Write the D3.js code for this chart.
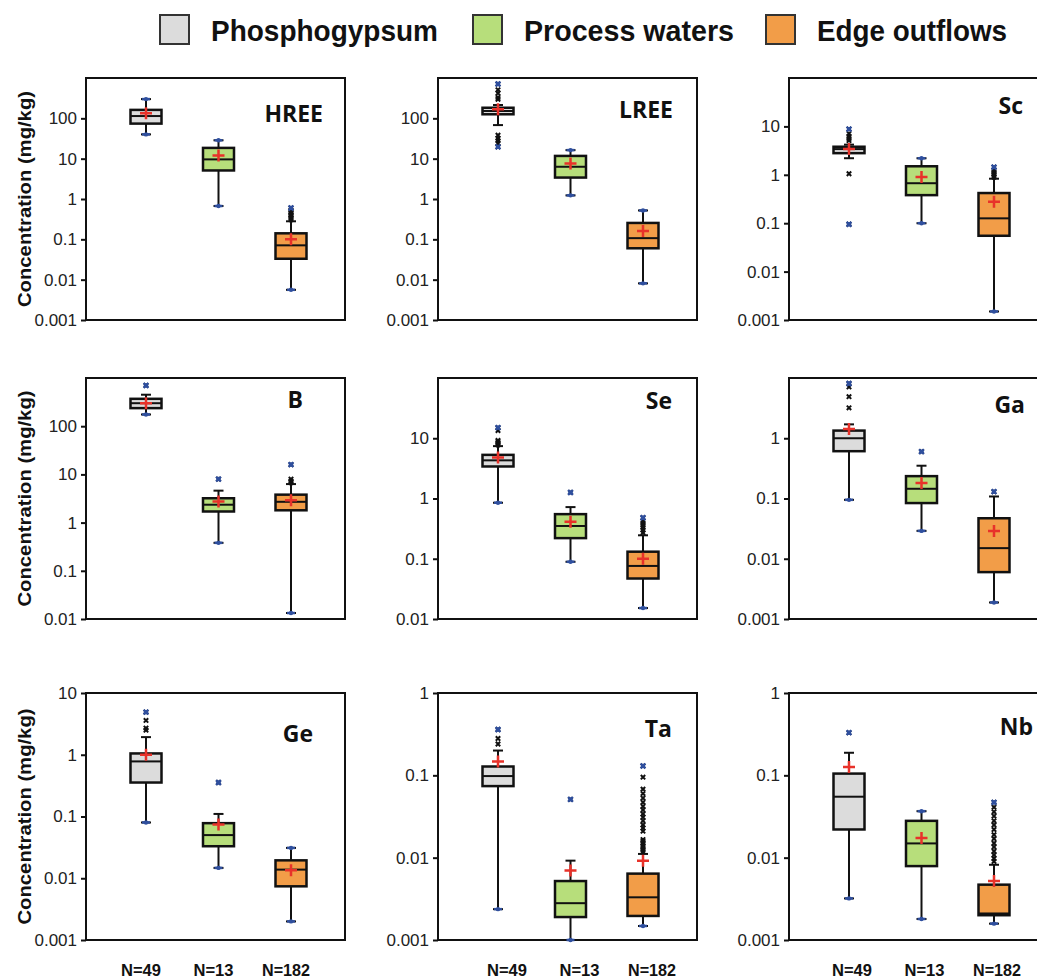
<!DOCTYPE html>
<html lang="en">
<head>
<meta charset="utf-8">
<title>Box plots</title>
<script src="https://cdn.jsdelivr.net/npm/d3@7"></script>
<style> html,body{margin:0;padding:0;background:#fff;} </style>
</head>
<body>
<script>

// groups + legend
var groups = ["Phosphogypsum", "Process waters", "Edge outflows"];
var groupColors = ["#dcdcdc", "#b7de7b", "#f29d48"];
var sampleSizes = [49, 13, 182];

// one panel per element
var elements = ["HREE", "LREE", "Sc", "B", "Se", "Ga", "Ge", "Ta", "Nb"];
var yDomains = [[0.001, 1000], [0.001, 1000], [0.001, 100], [0.01, 1000], [0.01, 100],
                [0.001, 10], [0.001, 10], [0.001, 1], [0.001, 1]];
var tickVals = [
  [0.001, 0.01, 0.1, 1, 10, 100],
  [0.001, 0.01, 0.1, 1, 10, 100],
  [0.001, 0.01, 0.1, 1, 10],
  [0.01, 0.1, 1, 10, 100],
  [0.01, 0.1, 1, 10],
  [0.001, 0.01, 0.1, 1],
  [0.001, 0.01, 0.1, 1, 10],
  [0.001, 0.01, 0.1, 1],
  [0.001, 0.01, 0.1, 1]
];

// stats per element, [phosphogypsum, process waters, edge outflows]
var whiskerLow = [[40, 0.67, 0.0056], [68, 1.23, 0.0081], [2.2, 0.1, 0.0015],
                  [175, 0.38, 0.0133], [0.85, 0.089, 0.0152], [0.095, 0.029, 0.00188],
                  [0.08, 0.0147, 0.002], [0.00237, 0.001, 0.00148], [0.0032, 0.0018, 0.00158]];
var q1 = [[74, 5.1, 0.033], [126, 3.4, 0.06], [2.8, 0.38, 0.055],
          [237, 1.7, 1.8], [3.4, 0.22, 0.047], [0.61, 0.084, 0.006],
          [0.355, 0.033, 0.0074], [0.074, 0.0019, 0.00196], [0.022, 0.0079, 0.002]];
var median = [[114, 9.6, 0.071], [152, 6.3, 0.107], [3.4, 0.67, 0.126],
              [300, 2.35, 2.7], [4.3, 0.35, 0.076], [1.0, 0.145, 0.015],
              [0.78, 0.05, 0.0138], [0.098, 0.0028, 0.0033], [0.055, 0.0149, 0.0021]];
var q3 = [[162, 18.5, 0.141], [183, 11.7, 0.255], [3.8, 1.5, 0.42],
          [370, 3.2, 3.8], [5.3, 0.55, 0.131], [1.34, 0.235, 0.047],
          [1.05, 0.078, 0.0195], [0.128, 0.0052, 0.0064], [0.105, 0.028, 0.0047]];
var whiskerHigh = [[300, 28.6, 0.28], [214, 16.3, 0.52], [4.2, 2.2, 0.83],
                   [450, 4.6, 6.3], [7.4, 0.72, 0.245], [1.7, 0.35, 0.108],
                   [1.93, 0.11, 0.031], [0.2, 0.0092, 0.0111], [0.188, 0.0367, 0.0082]];
var means = [[133, 12, 0.1], [167, 7.6, 0.16], [3.4, 0.9, 0.277],
             [300, 2.75, 2.9], [4.8, 0.41, 0.1], [1.42, 0.18, 0.029],
             [1.0, 0.074, 0.0135], [0.147, 0.007, 0.0092], [0.126, 0.0173, 0.0052]];
var outliers = [
  [[], [], [0.31, 0.34, 0.37, 0.4, 0.44, 0.48, 0.53, 0.6]],
  [[296, 330, 420, 510, 710, 38, 32, 28, 24, 19.6], [], []],
  [[5.1, 5.6, 6.2, 7.1, 8.8, 1.05, 0.095], [], [0.9, 0.97, 1.05, 1.15, 1.25, 1.44]],
  [[700], [8], [6.8, 7.3, 8, 16]],
  [[7.8, 8.3, 8.8, 9.2, 13.4, 15], [1.26], [0.27, 0.3, 0.33, 0.36, 0.39, 0.42, 0.48]],
  [[3.2, 4.9, 7.1, 8.1], [0.6], [0.13]],
  [[2.5, 2.7, 3.6, 4.9], [0.355], []],
  [[0.24, 0.28, 0.36], [0.051], [0.0118, 0.0125, 0.0133, 0.014, 0.015, 0.0158, 0.0166, 0.021, 0.023,
    0.025, 0.028, 0.031, 0.034, 0.038, 0.042, 0.047, 0.053, 0.06, 0.068, 0.095, 0.13]],
  [[0.33], [], [0.009, 0.0098, 0.0108, 0.012, 0.0135, 0.015, 0.017, 0.019, 0.022, 0.025,
    0.028, 0.032, 0.036, 0.041, 0.047]]
];

// layout
var colLeft = [86, 438, 789], rowTop = [78, 378, 693], rowBottom = [320, 619, 940];
var frameW = 259, boxW = 31;
var titleRight = [323, 673, 1023, 303, 672, 1025, 313, 672, 1033];
var titleBase = [122, 118, 114, 408, 409, 413, 742, 737, 735];
var nShift = [-5, 9, 3];

var svg = d3.select("body").append("svg")
    .attr("width", 1037)
    .attr("height", 979)
    .style("font-family", "'Liberation Sans', Arial, sans-serif");

// legend
var legX = [160, 473, 766], legTextLen = [227, 210, 190];
groups.forEach(function(g, i){
  svg.append("rect")
      .attr("x", legX[i]).attr("y", 15)
      .attr("width", 29).attr("height", 29)
      .attr("fill", groupColors[i])
      .attr("stroke", "#333").attr("stroke-width", 2);
  svg.append("text")
      .attr("x", legX[i] + 51).attr("y", 41)
      .attr("font-size", 30).attr("font-weight", "bold")
      .attr("fill", "#111")
      .attr("textLength", legTextLen[i])
      .attr("lengthAdjust", "spacingAndGlyphs")
      .text(g);
});

function xMark(s){
  return "M" + (-s) + "," + (-s) + "L" + s + "," + s + "M" + (-s) + "," + s + "L" + s + "," + (-s);
}

elements.forEach(function(el, p){
  var c = p % 3, r = Math.floor(p / 3);
  var x0 = colLeft[c], top = rowTop[r], bottom = rowBottom[r];

  var y = d3.scaleLog().domain(yDomains[p]).range([bottom, top]);
  var x = d3.scalePoint().domain(groups).range([x0 + 60, x0 + 205]);

  var panel = svg.append("g");

  panel.append("rect")
      .attr("x", x0).attr("y", top)
      .attr("width", frameW).attr("height", bottom - top)
      .attr("fill", "none")
      .attr("stroke", "#111").attr("stroke-width", 2);

  var axis = panel.append("g")
      .attr("transform", "translate(" + x0 + ",0)")
      .call(d3.axisLeft(y).tickValues(tickVals[p]).tickFormat(function(d){ return String(d); })
          .tickSize(5).tickPadding(4));
  axis.select(".domain").remove();
  axis.selectAll(".tick line").attr("stroke", "#111").attr("stroke-width", 2);
  axis.selectAll(".tick text")
      .attr("font-size", 17)
      .attr("fill", "#222")
      .style("font-family", "'Liberation Sans', Arial, sans-serif");

  panel.append("text")
      .attr("x", titleRight[p]).attr("y", titleBase[p])
      .attr("text-anchor", "end")
      .attr("font-size", 23).attr("font-weight", "bold")
      .style("font-family", "'Open Sans', sans-serif")
      .attr("fill", "#111")
      .text(el);

  if (c === 0) {
    svg.append("text")
        .attr("transform", "translate(25," + ((top + bottom) / 2) + ") rotate(-90)")
        .attr("text-anchor", "middle")
        .attr("dy", "0.35em")
        .attr("font-size", 18).attr("font-weight", "bold")
        .attr("fill", "#111")
        .attr("textLength", 216)
        .attr("lengthAdjust", "spacingAndGlyphs")
        .text("Concentration (mg/kg)");
  }

  groups.forEach(function(g, i){
    var cx = x(g);
    var lo = whiskerLow[p][i], hi = whiskerHigh[p][i];
    var outs = outliers[p][i];

    panel.append("line")
        .attr("x1", cx).attr("x2", cx)
        .attr("y1", y(lo)).attr("y2", y(hi))
        .attr("stroke", "#111").attr("stroke-width", 2);
    [lo, hi].forEach(function(v){
      panel.append("line")
          .attr("x1", cx - 5).attr("x2", cx + 5)
          .attr("y1", y(v)).attr("y2", y(v))
          .attr("stroke", "#111").attr("stroke-width", 2);
    });

    panel.append("rect")
        .attr("x", cx - boxW / 2).attr("y", y(q3[p][i]))
        .attr("width", boxW).attr("height", y(q1[p][i]) - y(q3[p][i]))
        .attr("fill", groupColors[i])
        .attr("stroke", "#111").attr("stroke-width", 2.5);
    panel.append("line")
        .attr("x1", cx - boxW / 2).attr("x2", cx + boxW / 2)
        .attr("y1", y(median[p][i])).attr("y2", y(median[p][i]))
        .attr("stroke", "#111").attr("stroke-width", 2);

    panel.selectAll(null)
        .data(outs)
        .enter().append("path")
        .attr("transform", function(d){ return "translate(" + cx + "," + y(d) + ")"; })
        .attr("d", xMark(2.2))
        .attr("stroke", "#111").attr("stroke-width", 2);

    // blue min / max markers
    var all = outs.concat([lo, hi]);
    [d3.min(all), d3.max(all)].forEach(function(v){
      var isWhisker = (v === lo || v === hi);
      panel.append("path")
          .attr("transform", "translate(" + cx + "," + y(v) + ")")
          .attr("d", isWhisker ? "M-4,0H4" : xMark(2.4))
          .attr("stroke", "#2f4f9e").attr("stroke-width", isWhisker ? 2.5 : 2.2);
      panel.append("circle")
          .attr("cx", cx).attr("cy", y(v)).attr("r", 2.2)
          .attr("fill", "#2f4f9e");
    });

    // mean
    var my = y(means[p][i]);
    panel.append("path")
        .attr("d", "M" + (cx - 6) + "," + my + "H" + (cx + 6) + "M" + cx + "," + (my - 6) + "V" + (my + 6))
        .attr("stroke", "#e8322a").attr("stroke-width", 2.5);

    if (r === 2) {
      svg.append("text")
          .attr("x", cx + nShift[c]).attr("y", 976)
          .attr("text-anchor", "middle")
          .attr("font-size", 17).attr("font-weight", "bold")
          .attr("fill", "#111")
          .attr("textLength", i === 2 ? 48 : 40)
          .attr("lengthAdjust", "spacingAndGlyphs")
          .text("N=" + sampleSizes[i]);
    }
  });
});

</script>
</body>
</html>
